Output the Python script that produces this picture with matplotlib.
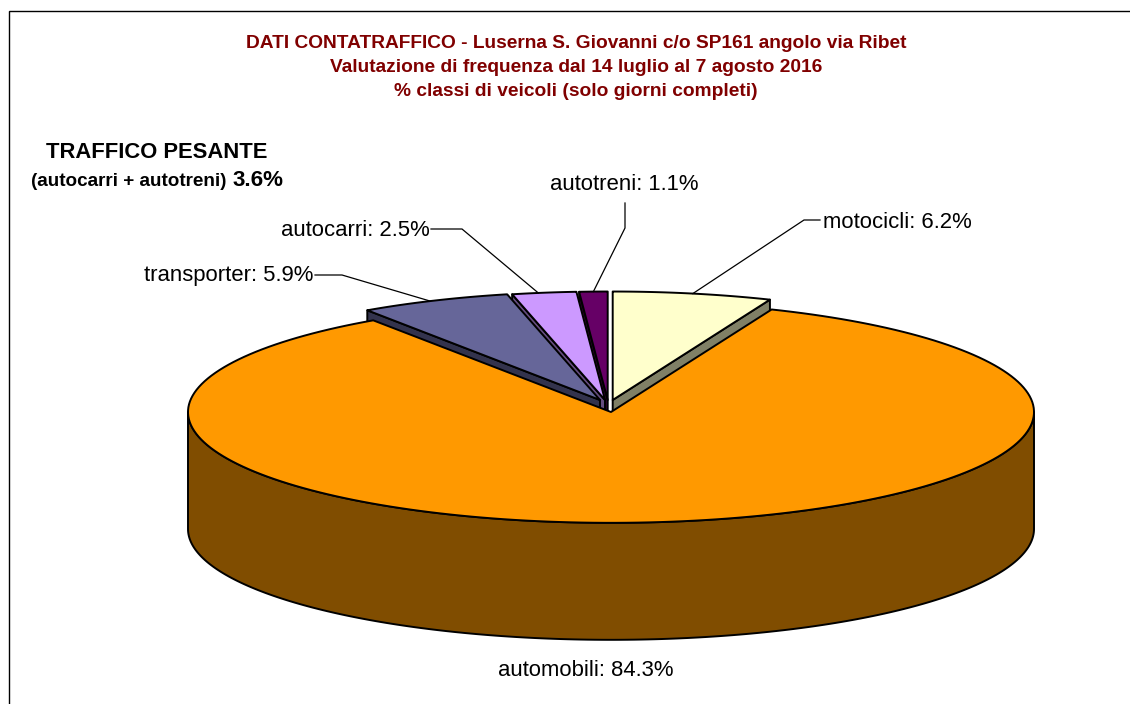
import numpy as np
import matplotlib
matplotlib.use('Agg')
import matplotlib.pyplot as plt
from matplotlib.patches import Polygon

plt.rcParams['font.family'] = ['Liberation Sans', 'DejaVu Sans']

# clockwise from 12 o'clock
classes = ['motocicli', 'automobili', 'transporter', 'autocarri', 'autotreni']
percent = [6.2, 84.3, 5.9, 2.5, 1.1]
top_colors = ['#FFFFCC', '#FF9900', '#666699', '#CC99FF', '#660066']
side_colors = ['#808066', '#804D00', '#33334D', '#664D80', '#330033']
title_lines = ['DATI CONTATRAFFICO - Luserna S. Giovanni c/o SP161 angolo via Ribet',
               'Valutazione di frequenza dal 14 luglio al 7 agosto 2016',
               '% classi di veicoli (solo giorni completi)']
heavy_title = 'TRAFFICO PESANTE'
heavy_sub = '(autocarri + autotreni)'
heavy_value = '3.6%'

# pixel layout of the 3d pie
apex = {'motocicli': (612.7, 400), 'automobili': (611, 412), 'transporter': (600, 400),
        'autocarri': (605, 400), 'autotreni': (607.7, 400)}
radius = {'motocicli': 414, 'automobili': 423, 'transporter': 414, 'autocarri': 414, 'autotreni': 414}
tilt = 0.262
depth = 117

fig = plt.figure(figsize=(11.3, 7.04), dpi=100)
ax = fig.add_axes([0, 0, 1, 1])
ax.set_xlim(0, 1130)
ax.set_ylim(704, 0)
ax.axis('off')

ends = np.cumsum(percent) * 3.6
starts = ends - np.array(percent) * 3.6
start_of = dict(zip(classes, starts))
end_of = dict(zip(classes, ends))


def arc(name, a, b, n=200):
    t = np.radians(np.linspace(a, b, n))
    cx, cy = apex[name]
    r = radius[name]
    return np.column_stack([cx + r * np.sin(t), cy - r * tilt * np.cos(t)])


def draw_slice(name, face, side):
    a, b = start_of[name], end_of[name]
    cx, cy = apex[name]
    pts = arc(name, a, b)
    down = np.array([0, depth])
    # cut faces, only those turned towards the viewer
    cuts = []
    if np.sin(np.radians(a)) < -1e-6:
        cuts.append(pts[0])
    if np.sin(np.radians(b)) > 1e-6:
        cuts.append(pts[-1])
    for p in cuts:
        quad = [(cx, cy), tuple(p), tuple(p + down), (cx, cy + depth)]
        ax.add_patch(Polygon(quad, closed=True, fc=side, ec='black', lw=1.4, joinstyle='round'))
    # outer rim, only the part facing the viewer
    lo, hi = max(a, 90), min(b, 270)
    if hi > lo:
        rim = arc(name, lo, hi)
        ax.add_patch(Polygon(np.vstack([rim, (rim + down)[::-1]]), closed=True,
                             fc=side, ec='black', lw=1.4, joinstyle='round'))
    ax.add_patch(Polygon(np.vstack([[(cx, cy)], pts]), closed=True, fc=face, ec='black',
                         lw=1.4, joinstyle='round'))


for i in [4, 3, 2, 0, 1]:
    draw_slice(classes[i], top_colors[i], side_colors[i])


# where along the slice rim the leader lands
leader_frac = {'motocicli': 0.5, 'autotreni': 0.5, 'autocarri': 0.41, 'transporter': 0.47}


def anchor(name):
    f = leader_frac[name]
    mid = start_of[name] + f * (end_of[name] - start_of[name])
    return arc(name, mid, mid, 1)[0]


# leader lines: label side elbow, then the rim of the slice
leaders = {'motocicli': [(820, 220), (804, 220)],
           'autotreni': [(625, 203), (625, 228)],
           'autocarri': [(431, 229), (462, 229)],
           'transporter': [(315, 275), (342, 275)]}
for name, elbow in leaders.items():
    p = anchor(name)
    xs = [elbow[0][0], elbow[1][0], p[0]]
    ys = [elbow[0][1], elbow[1][1], p[1]]
    ax.plot(xs, ys, color='black', lw=0.9, solid_joinstyle='miter')

label_fs = 15.95
label_pos = {'motocicli': (823, 222, 'left'), 'automobili': (586, 671, 'center'),
             'transporter': (313, 276, 'right'), 'autocarri': (430, 231, 'right'),
             'autotreni': (624, 185, 'center')}
for name, val in zip(classes, percent):
    x, y, ha = label_pos[name]
    ax.text(x, y, f'{name}: {val}%', fontsize=label_fs, ha=ha, va='center', color='black')

for line, y in zip(title_lines, [44, 68, 92]):
    ax.text(576, y, line, fontsize=13.8, fontweight='bold', color='#800000', ha='center', va='center')

ax.text(157, 153, heavy_title, fontsize=15.8, fontweight='bold', ha='center', va='center')
ax.text(31, 182, heavy_sub, fontsize=13.6, fontweight='bold', ha='left', va='center')
ax.text(233, 181, heavy_value, fontsize=16.1, fontweight='bold', ha='left', va='center')

# chart frame, cut off by the image on the right and at the bottom
ax.plot([9, 9, 1130], [704, 11, 11], color='black', lw=1.0, solid_joinstyle='miter')

fig.savefig('out.png', dpi=100, facecolor='white')
